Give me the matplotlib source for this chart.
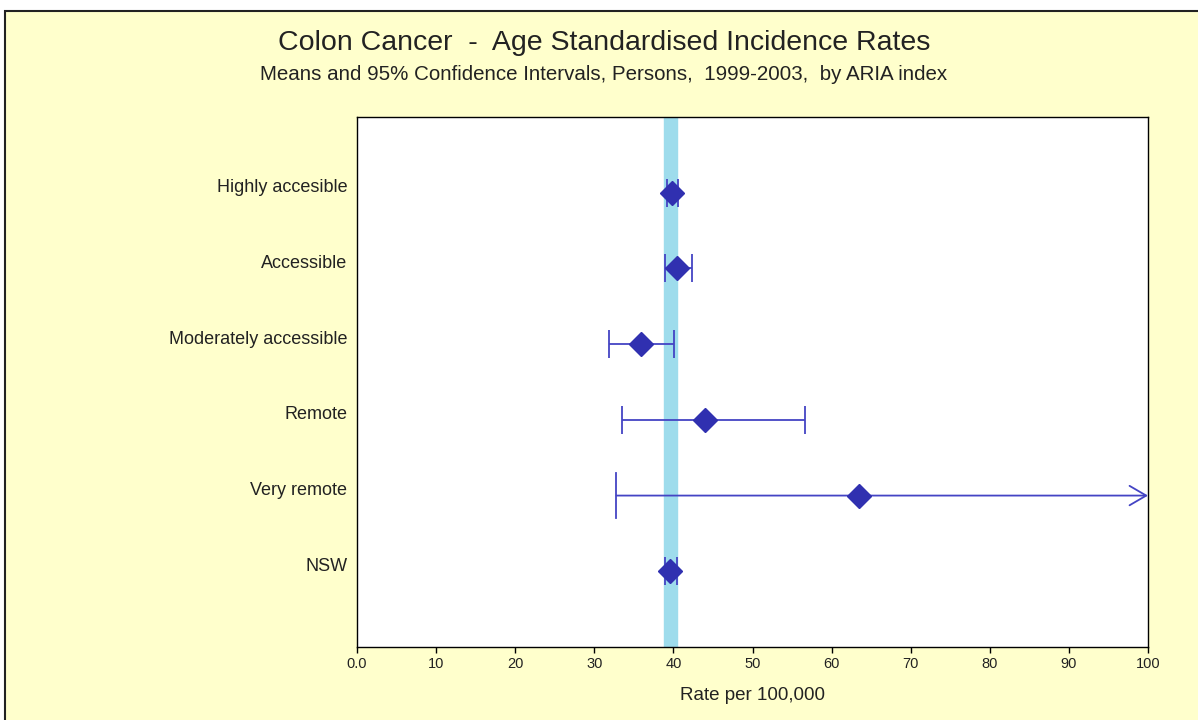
import numpy as np
import matplotlib
matplotlib.use('Agg')
import matplotlib.pyplot as plt
from matplotlib.patches import Rectangle
from matplotlib.transforms import ScaledTranslation

plt.rcParams['font.family'] = ['Liberation Sans', 'DejaVu Sans']

regions = ['Highly accesible', 'Accessible', 'Moderately accessible',
           'Remote', 'Very remote', 'NSW']
rate = [39.8, 40.5, 35.9, 44.0, 63.5, 39.6]
ci_low = [39.2, 38.9, 31.8, 33.5, 32.8, 38.9]
ci_high = [40.6, 42.3, 40.1, 56.7, np.nan, 40.4]   # very remote runs off scale
nsw_band = (38.8, 40.5)
xticks = [0, 10, 20, 30, 40, 50, 60, 70, 80, 90, 100]
xticklabels = ['0.0', '10', '20', '30', '40', '50', '60', '70', '80', '90', '100']

W, H = 1198, 720
fig = plt.figure(figsize=(W / 100, H / 100), dpi=100, facecolor='white')

# yellow panel with black frame
fig.patches.append(Rectangle((5 / W, -0.05), 1.1, 1 - 11 / H + 0.05,
                             transform=fig.transFigure, facecolor='#FFFFCC',
                             edgecolor='#222222', linewidth=1.5, zorder=-1))

ax = fig.add_axes([357 / W, 1 - 647 / H, (1148 - 357) / W, (647 - 117) / H])
ax.set_facecolor('white')

line_col = '#4444C4'
mark_col = '#3030B0'
txt_col = '#222222'
xmax = 100
ypos = np.arange(1, len(regions) + 1)

ax.axvspan(nsw_band[0], nsw_band[1], color='#9EDCEC', zorder=1)

for y, r, lo, hi in zip(ypos, rate, ci_low, ci_high):
    if np.isnan(hi):
        ax.annotate('', xy=(xmax, y), xytext=(lo, y),
                    arrowprops=dict(arrowstyle='->,head_length=1.2,head_width=0.7',
                                    color=line_col, lw=1.3, shrinkA=0, shrinkB=0),
                    zorder=2, annotation_clip=False)
        ax.plot([lo, lo], [y - 0.3, y + 0.3], color=line_col, lw=1.3, zorder=2)
    else:
        ax.errorbar(r, y, xerr=[[r - lo], [hi - r]], fmt='none', ecolor=line_col,
                    elinewidth=1.3, capsize=10, capthick=1.3, zorder=2)
    ax.plot(r, y, marker='D', markersize=12.5, color=mark_col, zorder=3)

ax.set_xlim(0, xmax)
ax.set_ylim(len(regions) + 1, 0)
ax.set_xticks(xticks)
ax.set_xticklabels(xticklabels, fontsize=10.5, color=txt_col)
ax.tick_params(axis='x', length=4, width=1, direction='out', pad=3)
ax.set_yticks(ypos)
ax.set_yticklabels(regions, fontsize=13, color=txt_col)
ax.tick_params(axis='y', length=0, pad=7)
for lbl in ax.get_yticklabels():
    lbl.set_transform(lbl.get_transform() + ScaledTranslation(0, 0.07, fig.dpi_scale_trans))
for s in ax.spines.values():
    s.set_color('black')
    s.set_linewidth(1)

ax.set_xlabel('Rate per 100,000', fontsize=13.5, labelpad=12, color=txt_col)

fig.text(604 / W, 1 - 43 / H, 'Colon Cancer  -  Age Standardised Incidence Rates',
         ha='center', va='center', fontsize=20.5, color=txt_col)
fig.text(604 / W, 1 - 75 / H,
         'Means and 95% Confidence Intervals, Persons,  1999-2003,  by ARIA index',
         ha='center', va='center', fontsize=14.8, color=txt_col)

fig.savefig('out.png', dpi=100)
